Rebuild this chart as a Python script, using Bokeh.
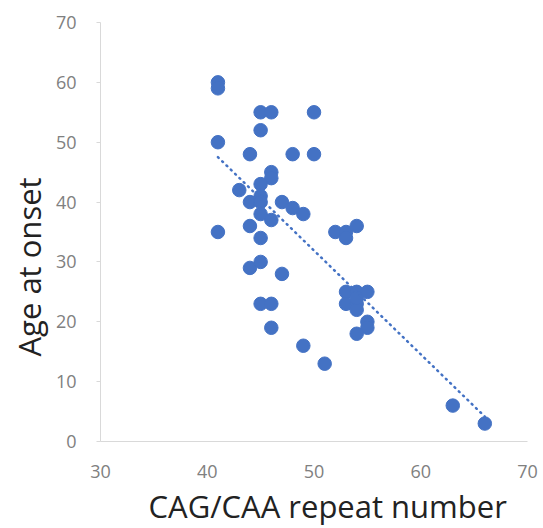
import numpy as np
from bokeh.plotting import figure
from bokeh.models import Range1d, ColumnDataSource, FixedTicker, Title
from bokeh.embed import file_html
from bokeh.resources import INLINE

# CAG/CAA repeat number vs age at onset
repeat_number = [41, 41, 41, 41, 45, 46, 50, 45, 44, 48, 50, 46, 46, 45, 43,
                 44, 45, 45, 45, 46, 47, 48, 49, 44, 45, 44, 45, 47, 45, 46,
                 46, 49, 51, 52, 53, 53, 54, 53, 54, 55, 53, 54, 54, 54, 55,
                 55, 54, 63, 66]
age_at_onset = [60, 59, 50, 35, 55, 55, 55, 52, 48, 48, 48, 45, 44, 43, 42,
                40, 41, 40, 38, 37, 40, 39, 38, 36, 34, 29, 30, 28, 23, 23,
                19, 16, 13, 35, 35, 34, 36, 25, 25, 25, 23, 23, 22, 24, 20,
                19, 18, 6, 3]
x_ticks = [30, 40, 50, 60, 70]
y_ticks = [0, 10, 20, 30, 40, 50, 60, 70]
x_title = "CAG/CAA repeat number"
y_title = "Age at onset"

FONT = "Open Sans"
BLUE = "#4472C4"

p = figure(width=543, height=528, output_backend="svg", toolbar_location=None,
           x_range=Range1d(30, 70), y_range=Range1d(0, 70),
           min_border_left=100, min_border_right=16, min_border_top=22,
           min_border_bottom=86)
p.outline_line_color = None
p.xgrid.visible = False
p.ygrid.visible = False

src = ColumnDataSource(dict(x=repeat_number, y=age_at_onset))
p.scatter("x", "y", source=src, size=13.5, fill_color=BLUE, line_color=BLUE)

# linear trendline
coef = np.polyfit(repeat_number, age_at_onset, 1)
tx = np.array([min(repeat_number), max(repeat_number)])
ty = coef[0] * tx + coef[1]
p.line(tx, ty, line_color=BLUE, line_width=2.5, line_dash="1 5", line_cap="round")

for ax in (p.xaxis[0], p.yaxis[0]):
    ax.axis_line_color = "#d9d9d9"
    ax.axis_line_width = 1
    ax.major_label_text_font = FONT
    ax.major_label_text_font_size = "18px"
    ax.major_label_text_color = "#808080"
    ax.minor_tick_line_color = None

p.xaxis[0].ticker = FixedTicker(ticks=x_ticks)
p.yaxis[0].ticker = FixedTicker(ticks=y_ticks)
p.xaxis[0].major_tick_line_color = None
p.xaxis[0].major_label_standoff = 17

p.yaxis[0].major_tick_line_color = "#d9d9d9"
p.yaxis[0].major_tick_in = 0
p.yaxis[0].major_tick_out = 4
p.yaxis[0].major_label_standoff = 20

# axis titles (placed on the chart area, as in the original)
p.add_layout(Title(text=x_title, align="left", offset=48, standoff=4,
                   text_font=FONT, text_font_size="31px",
                   text_font_style="normal", text_color="#222222"), "below")
p.add_layout(Title(text=y_title, align="left", offset=85, standoff=5,
                   text_font=FONT, text_font_size="31px",
                   text_font_style="normal", text_color="#222222"), "left")

open("out.html", "w").write(file_html(p, INLINE))
